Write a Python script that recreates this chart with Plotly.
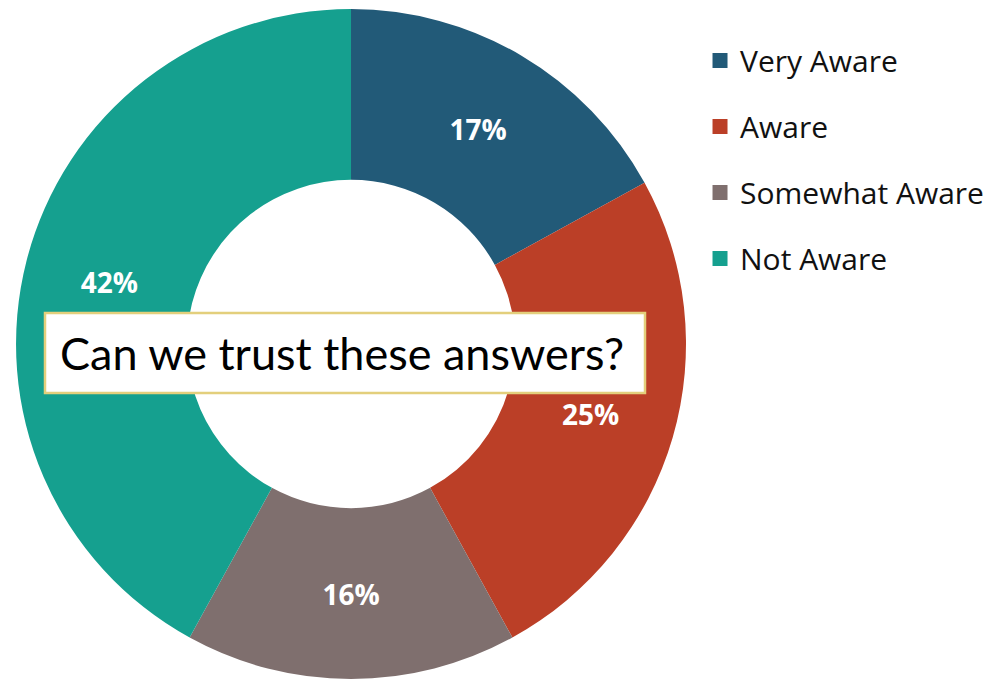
import plotly.graph_objects as go

categories = ["Very Aware", "Aware", "Somewhat Aware", "Not Aware"]
values = [17, 25, 16, 42]
value_labels = ["17%", "25%", "16%", "42%"]
colors = ["#225a78", "#bb3f27", "#7f6f6e", "#15a08f"]
question = "Can we trust these answers?"

fig = go.Figure()
fig.add_trace(go.Pie(
    labels=categories,
    values=values,
    text=value_labels,
    textinfo="text",
    textposition="inside",
    insidetextorientation="horizontal",
    textfont=dict(family="Open Sans", size=28, color="white", weight="bold"),
    marker=dict(colors=colors, line=dict(width=0)),
    hole=0.49,
    sort=False,
    direction="clockwise",
    rotation=0,
    showlegend=False,
    domain=dict(x=[0.00806, 0.6835], y=[0.0147, 0.9985]),
))

# legend entries (one per category) so rows can be spaced apart
for cat, col in zip(categories, colors):
    fig.add_trace(go.Scatter(
        x=[None], y=[None], mode="markers", name=cat,
        legendgroup=cat, showlegend=True,
        marker=dict(symbol="square", size=15, color=col),
    ))

fig.update_layout(
    width=992, height=681,
    margin=dict(l=0, r=0, t=0, b=0),
    paper_bgcolor="white", plot_bgcolor="white",
    xaxis=dict(visible=False), yaxis=dict(visible=False),
    legend=dict(
        x=0.6976, y=0.961, xanchor="left", yanchor="top",
        font=dict(family="Open Sans", size=30, color="#111111"),
        tracegroupgap=24, itemwidth=30,
        bgcolor="rgba(0,0,0,0)",
    ),
    shapes=[dict(
        type="rect", xref="paper", yref="paper",
        x0=37/992, x1=637/992, y0=1-385/681, y1=1-305/681,
        fillcolor="white", line=dict(color="#e3cf7c", width=2.5), layer="above",
    )],
    annotations=[dict(
        text=question, xref="paper", yref="paper",
        x=334/992, y=1-345/681, xanchor="center", yanchor="middle",
        showarrow=False, font=dict(family="Lato", size=45, color="black"),
    )],
)

fig.write_html("out.html")
